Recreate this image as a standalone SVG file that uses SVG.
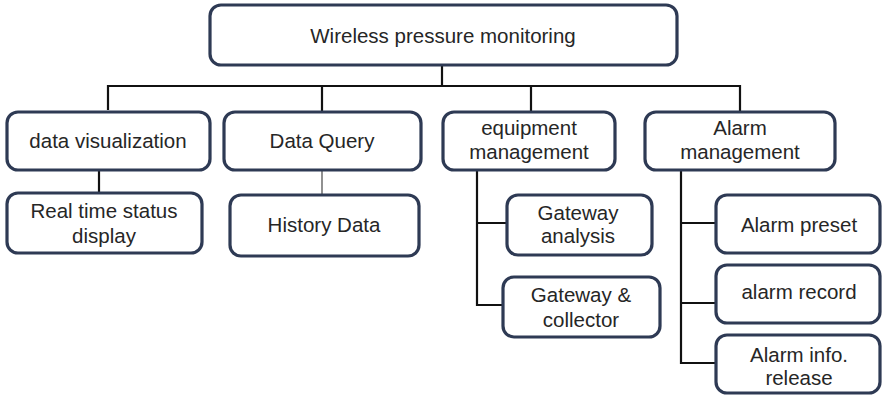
<svg xmlns="http://www.w3.org/2000/svg" width="882" height="396" viewBox="0 0 882 396">
<style>
.box{fill:#fff;stroke:#2e3a54;stroke-width:3.2}
.t{font-family:"Liberation Sans",Arial,sans-serif;font-size:20.5px;fill:#262626;text-anchor:middle}
.c{fill:none;stroke:#111;stroke-width:2.2}
.thin{fill:none;stroke:#555;stroke-width:1.3}
</style>
<rect width="882" height="396" fill="#fff"/>
<g id="connectors">
<path class="c" d="M442 65V86M108 110V86H740V112M322 86V112M531 86V112"/>
<path class="c" d="M99 170V193"/>
<path class="thin" d="M322 170V195"/>
<path class="c" d="M477 170V305H503M477 223H507"/>
<path class="c" d="M681 170V363H716M681 223H716M681 303H716"/>
</g>
<g id="root"><rect class="box" x="210" y="5" width="467" height="60" rx="11"/><text class="t" x="443" y="43">Wireless pressure monitoring</text></g>
<g id="data-visualization"><rect class="box" x="7" y="112" width="203" height="58" rx="11"/><text class="t" x="108" y="148">data visualization</text></g>
<g id="data-query"><rect class="box" x="224" y="112" width="197" height="58" rx="11"/><text class="t" x="322" y="148">Data Query</text></g>
<g id="equipment-management"><rect class="box" x="443" y="112" width="172" height="58" rx="11"/><text class="t" x="529" y="135">equipment</text><text class="t" x="529" y="159">management</text></g>
<g id="alarm-management"><rect class="box" x="645" y="112" width="190" height="58" rx="11"/><text class="t" x="740" y="135">Alarm</text><text class="t" x="740" y="159">management</text></g>
<g id="real-time-status"><rect class="box" x="7" y="193" width="195" height="60" rx="11"/><text class="t" x="104" y="218">Real time status</text><text class="t" x="104" y="243">display</text></g>
<g id="history-data"><rect class="box" x="230" y="195" width="189" height="61" rx="11"/><text class="t" x="324" y="232">History Data</text></g>
<g id="gateway-analysis"><rect class="box" x="507" y="195" width="145" height="60" rx="11"/><text class="t" x="578" y="220">Gateway</text><text class="t" x="578" y="243">analysis</text></g>
<g id="gateway-collector"><rect class="box" x="503" y="277" width="157" height="60" rx="11"/><text class="t" x="581" y="302">Gateway &amp;</text><text class="t" x="581" y="327">collector</text></g>
<g id="alarm-preset"><rect class="box" x="716" y="195" width="164" height="58" rx="11"/><text class="t" x="799" y="232">Alarm preset</text></g>
<g id="alarm-record"><rect class="box" x="716" y="265" width="164" height="58" rx="11"/><text class="t" x="799" y="299">alarm record</text></g>
<g id="alarm-info-release"><rect class="box" x="716" y="335" width="164" height="58" rx="11"/><text class="t" x="799" y="362">Alarm info.</text><text class="t" x="799" y="385">release</text></g>
</svg>
